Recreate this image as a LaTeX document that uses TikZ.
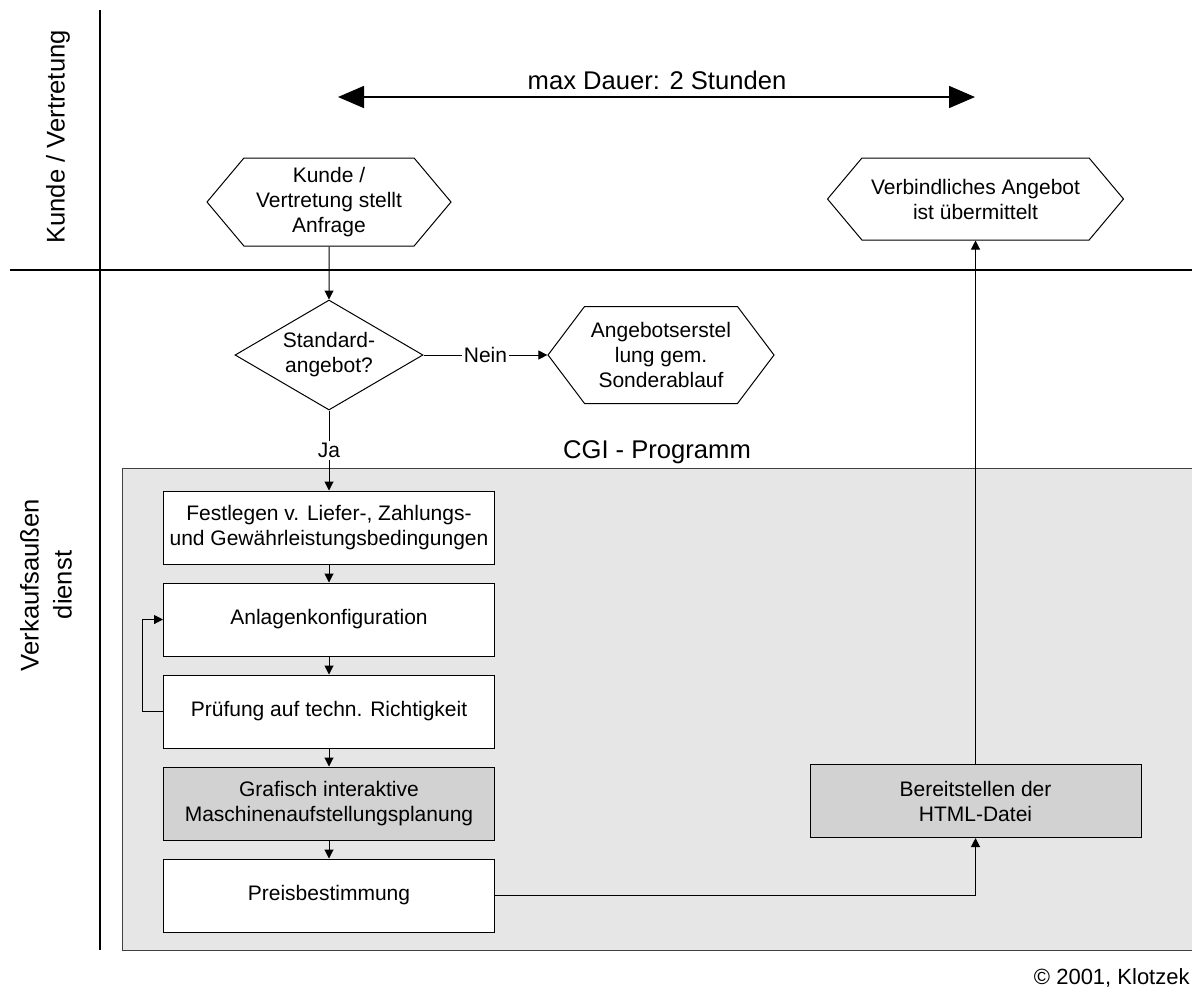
\documentclass[tikz,border=0pt]{standalone}
\usepackage{fontspec}
\setmainfont{Liberation Sans}
\usetikzlibrary{positioning,shapes.geometric,shapes.symbols,arrows.meta}
\definecolor{cgigray}{HTML}{E6E6E6}
\definecolor{boxgray}{HTML}{D2D2D2}
\begin{document}
\begin{tikzpicture}[x=0.5pt, y=-0.5pt,
    lane/.style={line width=1pt},
    lanelabel/.style={rotate=90, align=center, font=\fontsize{12.8}{16.5}\selectfont},
    header/.style={font=\fontsize{12.8}{15}\selectfont},
    txt/.style={align=center, font=\fontsize{10.5}{12.5}\selectfont},
    procbox/.style={txt, draw, line width=0.5pt, fill=white, minimum width=165.5pt, minimum height=36.5pt, inner sep=0pt},
    hexa/.style={txt, draw, line width=0.5pt, fill=white, signal, signal to=east and west, signal pointer angle=100, inner sep=0pt},
    decide/.style={draw, line width=0.5pt, fill=white, diamond, minimum width=94pt, minimum height=55pt, inner sep=0pt},
    flow/.style={line width=0.5pt, -{Triangle[length=4.5pt,width=4.5pt]}},
    bigarrow/.style={line width=0.8pt, {Triangle[length=13pt,width=11pt]}-{Triangle[length=13pt,width=11pt]}},
    node distance=9pt]
    \useasboundingbox (0,0) rectangle (1192,987);
    % Swim lanes
    \draw[lane] (100,10) -- (100,950);
    \draw[lane] (10,270) -- (1192,270);
    \node[lanelabel] (laneK) at (58,137) {Kunde / Vertretung};
    \node[lanelabel] (laneV) at (46,585) {Verkaufsaußen\\dienst};
    % Maximum duration
    \coordinate (durL) at (338,97);
    \coordinate (durR) at (975,97);
    \draw[bigarrow] (durL) -- (durR);
    \node[header] (dauer) at (657,80) {max Dauer: 2 Stunden};
    % CGI program area
    \draw[fill=cgigray, draw=black!75, line width=0.5pt] (122,468) rectangle (1200,950);
    \node[header] (cgi) at (657,452) {CGI - Programm};
    % Start and end events
    \node[hexa, minimum width=122pt, minimum height=44pt] (anfrage) at (329,202) {Kunde /\\Vertretung stellt\\Anfrage};
    \node[hexa, minimum width=148pt, minimum height=41pt] (angebot) at (975.5,199) {Verbindliches Angebot\\ist übermittelt};
    % Decision
    \node[decide] (standard) at (329,355) {};
    \node[txt] (standardtxt) at (standard) {Standard-\\angebot?};
    \node[hexa, minimum width=113pt, minimum height=48.5pt, signal pointer angle=106] (sonder) at (661,355) {Angebotserstel\\lung gem.\\Sonderablauf};
    % Process steps
    \node[procbox] (bedingungen) at (329,527.5) {Festlegen v. Liefer-, Zahlungs-\\und Gewährleistungsbedingungen};
    \node[procbox, below=of bedingungen] (konfig) {Anlagenkonfiguration};
    \node[procbox, below=of konfig] (pruefung) {Prüfung auf techn. Richtigkeit};
    \node[procbox, fill=boxgray, below=of pruefung] (planung) {Grafisch interaktive\\Maschinenaufstellungsplanung};
    \node[procbox, below=of planung] (preis) {Preisbestimmung};
    \node[procbox, fill=boxgray] (html) at (975.5,801) {Bereitstellen der\\HTML-Datei};
    % Connectors
    \draw[flow] (anfrage) -- (standard);
    \draw[flow] (standard.east) -- node[txt, fill=white, inner sep=1pt] {Nein} (sonder.west);
    \draw[flow] (standard.south) -- node[txt, fill=white, inner sep=1pt] {Ja} (bedingungen.north);
    \draw[flow] (bedingungen) -- (konfig);
    \draw[flow] (konfig) -- (pruefung);
    \draw[flow] (pruefung) -- (planung);
    \draw[flow] (planung) -- (preis);
    \draw[flow] (pruefung.west) -- ++(-21,0) |- (konfig.west);
    \draw[flow] (preis.east) -| (html.south);
    \draw[flow] (html.north) -- (angebot.south);
    % Copyright
    \node[anchor=base east, inner sep=0pt, font=\fontsize{11}{13}\selectfont] (copy) at (1190,984) {© 2001, Klotzek};
\end{tikzpicture}
\end{document}
